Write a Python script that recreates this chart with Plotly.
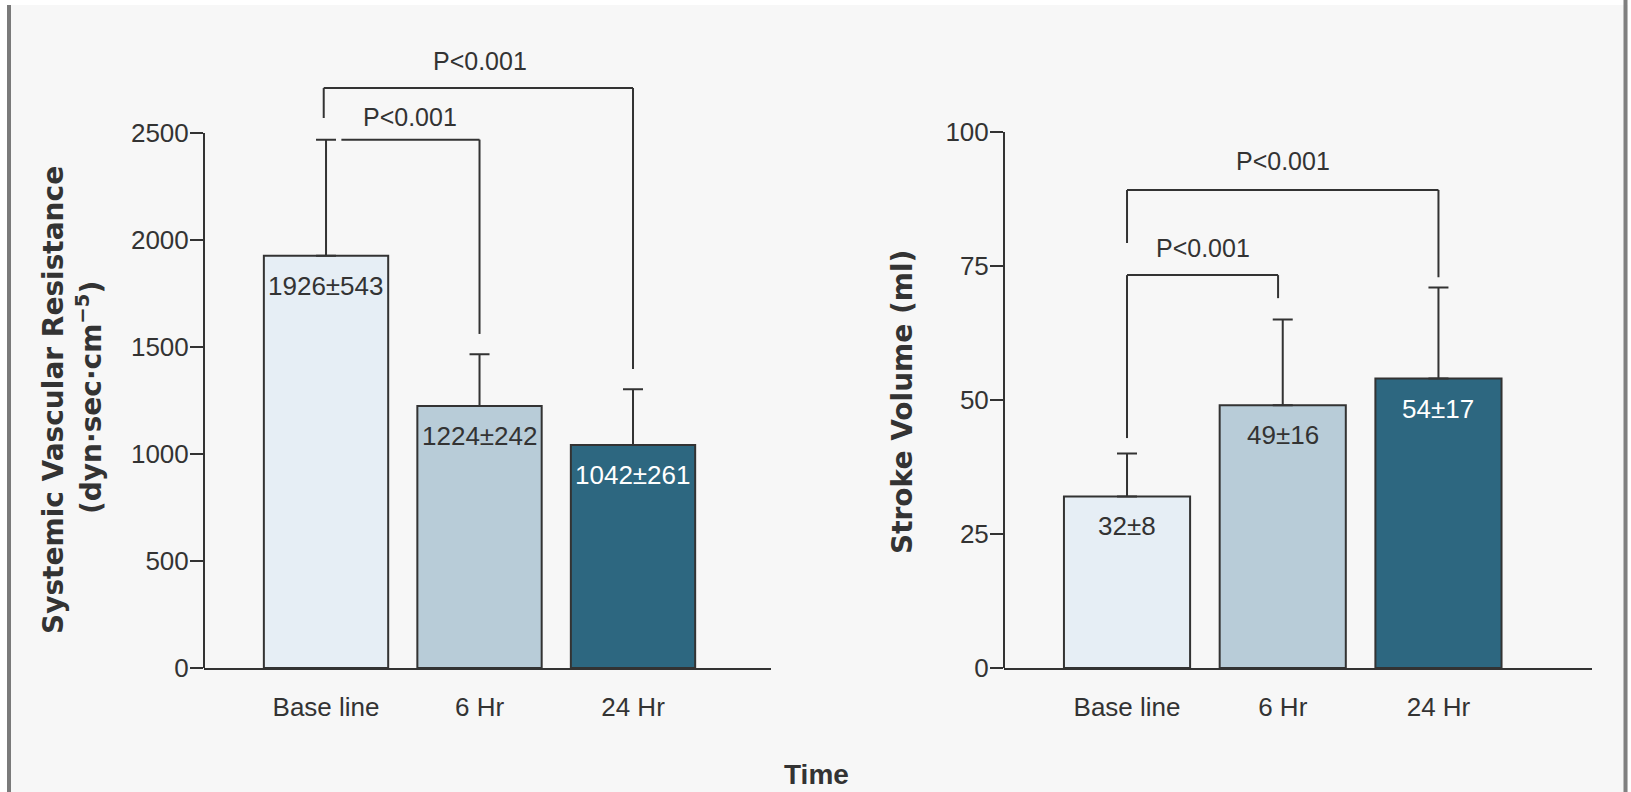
import plotly.graph_objects as go

W, H = 1631, 792

# ---- data -------------------------------------------------------------
categories = ["Base line", "6 Hr", "24 Hr"]
svr_mean = [1926, 1224, 1042]   # systemic vascular resistance, dyn·sec·cm^-5
svr_sd = [543, 242, 261]
sv_mean = [32, 49, 54]          # stroke volume, ml
sv_sd = [8, 16, 17]
svr_ticks = [0, 500, 1000, 1500, 2000, 2500]
sv_ticks = [0, 25, 50, 75, 100]
p_text = "P<0.001"

# ---- style ------------------------------------------------------------
bar_fill = ["#e6eef5", "#b8ccd8", "#2d6780"]
label_color = ["#333333", "#333333", "#ffffff"]
INK = "#333333"
SANS = "Liberation Sans, Arial, sans-serif"
TITLE = "DejaVu Sans"


def px(x):
    return x / W


def py(y):
    return 1 - y / H


fig = go.Figure()

panels = [
    dict(mean=svr_mean, sd=svr_sd, xa="x", ya="y", ticks=svr_ticks),
    dict(mean=sv_mean, sd=sv_sd, xa="x2", ya="y2", ticks=sv_ticks),
]

for p in panels:
    fig.add_trace(go.Bar(
        x=categories, y=p["mean"], width=0.81,
        marker=dict(color=bar_fill, line=dict(color=INK, width=2)),
        error_y=dict(type="data", symmetric=False, array=p["sd"],
                     arrayminus=[0] * len(p["sd"]),
                     color=INK, thickness=2, width=10),
        xaxis=p["xa"], yaxis=p["ya"], showlegend=False, hoverinfo="skip",
    ))

xcommon = dict(type="category", showline=True, linecolor=INK, linewidth=2,
               ticks="outside", ticklen=15, tickcolor="rgba(0,0,0,0)",
               tickfont=dict(family=SANS, size=26, color=INK),
               showgrid=False, zeroline=False, fixedrange=True, automargin=False)
ycommon = dict(showline=False, ticks="outside", ticklen=13, tickwidth=2,
               tickcolor=INK, tickfont=dict(family=SANS, size=26, color=INK),
               ticklabelstandoff=-4,
               showgrid=False, zeroline=False, fixedrange=True, automargin=False)

fig.update_layout(
    template="none",
    width=W, height=H, autosize=False,
    margin=dict(l=0, r=0, t=0, b=0, pad=0, autoexpand=False),
    paper_bgcolor="#f7f7f7", plot_bgcolor="rgba(0,0,0,0)",
    xaxis=dict(xcommon, domain=[px(204), px(771)], range=[-0.795, 2.899], anchor="y"),
    yaxis=dict(ycommon, domain=[py(668), py(668 - 3000 * 0.214)], range=[0, 3000],
               tickvals=svr_ticks, anchor="x"),
    xaxis2=dict(xcommon, domain=[px(1004), px(1592)], range=[-0.79, 2.986], anchor="y2"),
    yaxis2=dict(ycommon, domain=[py(668), py(668 - 120 * 5.36)], range=[0, 120],
                tickvals=sv_ticks, anchor="x2"),
)

shapes = []
# white margin strips and the grey frame rules
shapes += [
    dict(type="rect", xref="paper", yref="paper", x0=0, x1=1, y0=py(5), y1=1,
         fillcolor="white", line=dict(width=0), layer="below"),
    dict(type="rect", xref="paper", yref="paper", x0=0, x1=px(7), y0=0, y1=1,
         fillcolor="white", line=dict(width=0), layer="below"),
    dict(type="rect", xref="paper", yref="paper", x0=px(1628), x1=1, y0=0, y1=1,
         fillcolor="white", line=dict(width=0), layer="below"),
    dict(type="line", xref="paper", yref="paper", x0=px(9), x1=px(9), y0=0, y1=py(5),
         line=dict(color="#7a7a7a", width=4)),
    dict(type="line", xref="paper", yref="paper", x0=px(1625.5), x1=px(1625.5), y0=0, y1=1,
         line=dict(color="#808080", width=4)),
]

# y-axis spines stopping at the top tick
for p in panels:
    shapes.append(dict(type="line", xref=f"{p['xa']} domain", yref=p["ya"],
                       x0=0, x1=0, y0=0, y1=p["ticks"][-1],
                       line=dict(color=INK, width=2)))


def seg(xa, ya, x0, y0, x1, y1):
    return dict(type="line", xref=xa, yref=ya, x0=x0, y0=y0, x1=x1, y1=y1,
                line=dict(color=INK, width=2))


# significance brackets, left panel
top_svr = [m + s for m, s in zip(svr_mean, svr_sd)]
shapes += [
    seg("x", "y", 0.1, top_svr[0], 1, top_svr[0]),
    seg("x", "y", 1, top_svr[0], 1, top_svr[1] + 95),
    seg("x", "y", -0.015, 2710, 2, 2710),
    seg("x", "y", -0.015, 2710, -0.015, 2570),
    seg("x", "y", 2, 2710, 2, top_svr[2] + 94),
]
# significance brackets, right panel
top_sv = [m + s for m, s in zip(sv_mean, sv_sd)]
shapes += [
    seg("x2", "y2", 0, 73.3, 0.97, 73.3),
    seg("x2", "y2", 0, 73.3, 0, top_sv[0] + 2.9),
    seg("x2", "y2", 0.97, 73.3, 0.97, top_sv[1] + 4),
    seg("x2", "y2", 0, 89.2, 2, 89.2),
    seg("x2", "y2", 0, 89.2, 0, 79.3),
    seg("x2", "y2", 2, 89.2, 2, top_sv[2] + 1.9),
]
fig.update_layout(shapes=shapes)

ann = []
# mean ± SD labels inside the bars
for p in panels:
    for i, (m, s) in enumerate(zip(p["mean"], p["sd"])):
        ann.append(dict(x=i, y=m, xref=p["xa"], yref=p["ya"], text=f"{m}±{s}",
                        showarrow=False, xanchor="center", yanchor="middle", yshift=-30,
                        font=dict(family=SANS, size=26, color=label_color[i])))

pfont = dict(family=SANS, size=25, color=INK)
for x, y, xa, ya in [(1, 2836, "x", "y"), (0.55, 2575, "x", "y"),
                     (1, 94.6, "x2", "y2"), (0.485, 78.4, "x2", "y2")]:
    ann.append(dict(x=x, y=y, xref=xa, yref=ya, text=p_text, showarrow=False,
                    xanchor="center", yanchor="middle", font=pfont))

tfont = dict(family=TITLE, size=28, color=INK, weight="bold")
for x, y, txt in [(53, 400, "Systemic Vascular Resistance"),
                  (90, 398, "(dyn·sec·cm<sup>−5</sup>)"),
                  (902, 402, "Stroke Volume (ml)")]:
    ann.append(dict(x=px(x), y=py(y), xref="paper", yref="paper", textangle=-90,
                    xanchor="center", yanchor="middle", text=txt,
                    showarrow=False, font=tfont))
ann.append(dict(x=px(816.5), y=py(774), xref="paper", yref="paper", text="Time",
                xanchor="center", yanchor="middle", showarrow=False,
                font=dict(family=SANS, size=28, color=INK, weight="bold")))
fig.update_layout(annotations=ann)

fig.write_html("out.html")
